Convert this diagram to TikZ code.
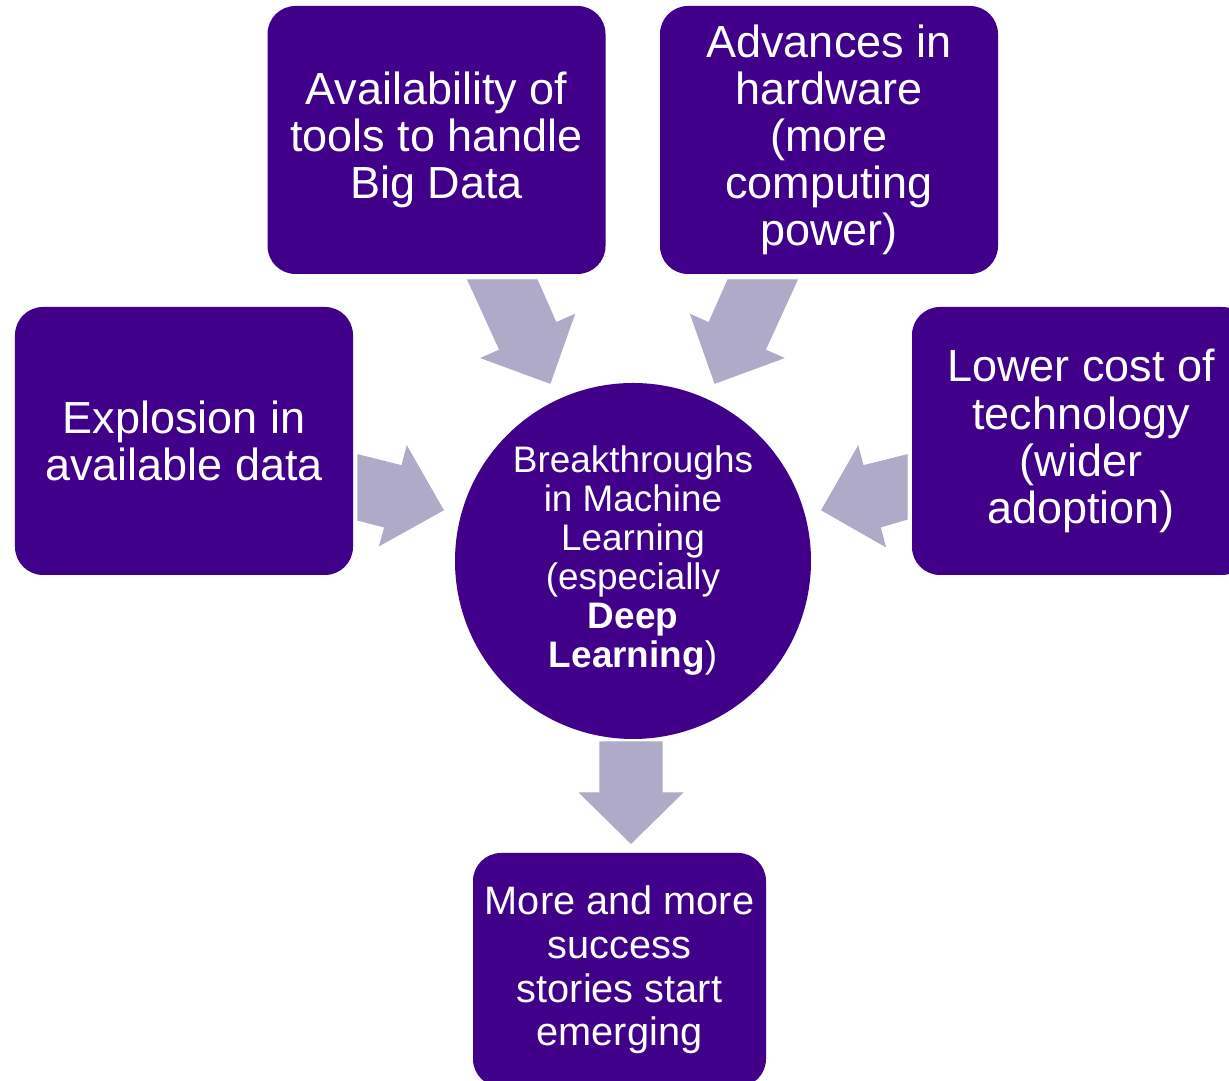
\documentclass[tikz,border=0pt]{standalone}
\usepackage{fontspec}
\setmainfont{Liberation Sans}
\definecolor{mlpurple}{HTML}{410089}
\definecolor{mlgrey}{HTML}{AFAAC8}

\begin{document}
\begin{tikzpicture}[
  box/.style={rounded corners=0.28cm, fill=mlpurple, text=white, align=center,
    inner sep=0pt, minimum width=3.38cm, minimum height=2.68cm,
    font=\fontsize{12.8pt}{13.4pt}\selectfont},
  hub/.style={circle, fill=mlpurple, text=white, align=center, inner sep=0pt,
    minimum size=3.56cm, font=\fontsize{10.5pt}{11.1pt}\selectfont},
  blockarrow/.style={color=mlgrey, fill=mlgrey}]
  \useasboundingbox (0,0) rectangle (12.29,-10.81);
  \clip (0,0) rectangle (12.29,-10.81);

  \draw [yshift=-4.41cm,xshift=1.84cm] node[box] (data) {Explosion in\\available data};
  \draw [yshift=-1.40cm,xshift=4.365cm] node[box] (tools) {Availability of\\tools to handle\\Big Data};
  \draw [yshift=-1.40cm,xshift=8.29cm] node[box] (hardware) {Advances in\\hardware\\(more\\computing\\power)};
  \draw [yshift=-4.41cm,xshift=10.81cm] node[box] (cost) {Lower cost of\\technology\\(wider\\adoption)};

  \draw [yshift=-5.61cm,xshift=6.33cm] node[hub] (ml) {Breakthroughs\\in Machine\\Learning\\(especially\\\textbf{Deep}\\\textbf{Learning})};

  \draw [yshift=-9.70cm,xshift=6.195cm] node[box, minimum width=2.93cm, minimum height=2.34cm,
    font=\fontsize{11.3pt}{12.4pt}\selectfont] (stories) {More and more\\success\\stories start\\emerging};

  % arrows into the hub
  \draw [blockarrow] (3.58,-4.55) -- (4.02,-4.66) -- (4.07,-4.47) -- (4.43,-5.10) -- (3.80,-5.45) -- (3.85,-5.27) -- (3.58,-5.20) -- cycle;
  \draw [blockarrow] (9.07,-4.55) -- (8.63,-4.66) -- (8.58,-4.47) -- (8.22,-5.10) -- (8.85,-5.46) -- (8.80,-5.27) -- (9.07,-5.19) -- cycle;
  \draw [blockarrow] (4.68,-2.80) -- (5.37,-2.80) -- (5.56,-3.23) -- (5.74,-3.15) -- (5.50,-3.83) -- (4.82,-3.58) -- (5.00,-3.50) -- cycle;
  \draw [blockarrow] (7.97,-2.80) -- (7.28,-2.80) -- (7.09,-3.23) -- (6.91,-3.15) -- (7.15,-3.83) -- (7.83,-3.58) -- (7.65,-3.50) -- cycle;

  % arrow out of the hub
  \draw [blockarrow] (6.00,-7.42) -- (6.62,-7.42) -- (6.62,-7.93) -- (6.82,-7.93) -- (6.31,-8.43) -- (5.80,-7.93) -- (6.00,-7.93) -- cycle;

\end{tikzpicture}
\end{document}
